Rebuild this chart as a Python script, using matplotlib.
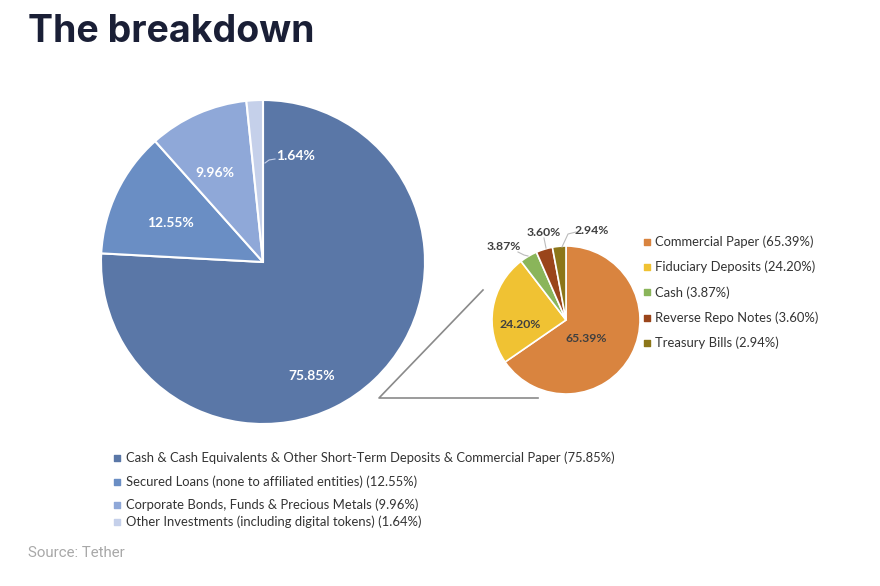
import matplotlib.pyplot as plt

# data
main_labels = [
    "Cash & Cash Equivalents & Other Short-Term Deposits & Commercial Paper",
    "Secured Loans (none to affiliated entities)",
    "Corporate Bonds, Funds & Precious Metals",
    "Other Investments (including digital tokens)",
]
main_values = [75.85, 12.55, 9.96, 1.64]
main_colors = ["#5a77a7", "#6a8ec4", "#8fa8d8", "#c5d0ea"]

sub_labels = ["Commercial Paper", "Fiduciary Deposits", "Cash",
              "Reverse Repo Notes", "Treasury Bills"]
sub_values = [65.39, 24.20, 3.87, 3.60, 2.94]
sub_colors = ["#d9843f", "#f0c233", "#8ab55a", "#9a451b", "#8c7619"]

W, H = 880, 586


def py(y):
    # image pixel row -> axes y
    return H - y


fig = plt.figure(figsize=(8.8, 5.86), dpi=100)
ax = fig.add_axes([0, 0, 1, 1])

font = "Lato"

# big pie
ax.pie(main_values, colors=main_colors, startangle=90, counterclock=False,
       center=(263, py(262)), radius=162,
       wedgeprops=dict(edgecolor="white", linewidth=1.5))

# small pie
ax.pie(sub_values, colors=sub_colors, startangle=90, counterclock=False,
       center=(566, py(320)), radius=74,
       wedgeprops=dict(edgecolor="white", linewidth=1.2))

# pie() resets the limits, so set them afterwards
ax.set_xlim(0, W)
ax.set_ylim(0, H)
ax.set_aspect("equal")
ax.axis("off")

# connector lines
ax.plot([483, 379, 538], [py(290), py(398), py(398)], color="#8a8a8a", lw=1.2)

# big pie labels
big_pos = [(312, 376), (170, 223), (215, 173), (296, 156)]
for (x, y), v in zip(big_pos, main_values):
    ax.text(x, py(y), f"{v:.2f}%", color="white", fontsize=10,
            fontweight="bold", family=font, ha="center", va="center")
ax.plot([265, 269, 275], [py(163), py(160), py(159)], color="#c5d0ea", lw=0.8)

# small pie labels
sub_pos = [(586, 339), (520, 325), (504, 246), (544, 232), (592, 231)]
for (x, y), v in zip(sub_pos, sub_values):
    ax.text(x, py(y), f"{v:.2f}%", color="#404040", fontsize=8.8,
            fontweight="bold", family=font, ha="center", va="center")
ax.plot([518, 524, 528], [py(252), py(255), py(256)], color="#bbbbbb", lw=0.8)
ax.plot([544, 546], [py(238), py(248)], color="#bbbbbb", lw=0.8)
ax.plot([562, 568, 576], [py(247), py(234), py(232)], color="#bbbbbb", lw=0.8)

# small legend
for i, (lab, v, c) in enumerate(zip(sub_labels, sub_values, sub_colors)):
    y = 242 + i * 25.2
    ax.scatter([647], [py(y)], marker="s", s=18, color=c)
    ax.text(655, py(y), f"{lab} ({v:.2f}%)", fontsize=9.4, family=font,
            color="#333333", ha="left", va="center")

# main legend
main_rows = [458, 482, 505, 522]
for y, lab, v, c in zip(main_rows, main_labels, main_values, main_colors):
    ax.scatter([117], [py(y)], marker="s", s=16, color=c)
    ax.text(126, py(y), f"{lab} ({v:.2f}%)", fontsize=9.4, family=font,
            color="#333333", ha="left", va="center")

# title and source
ax.text(28, py(42), "The breakdown", fontsize=27, fontweight="bold",
        family="Inter", color="#1a1f36", ha="left", va="baseline")
ax.text(28, py(553), "Source: Tether", fontsize=10.8, family="Roboto",
        color="#a8a8a8", ha="left", va="center")

plt.savefig("out.png", dpi=100)
plt.close()
